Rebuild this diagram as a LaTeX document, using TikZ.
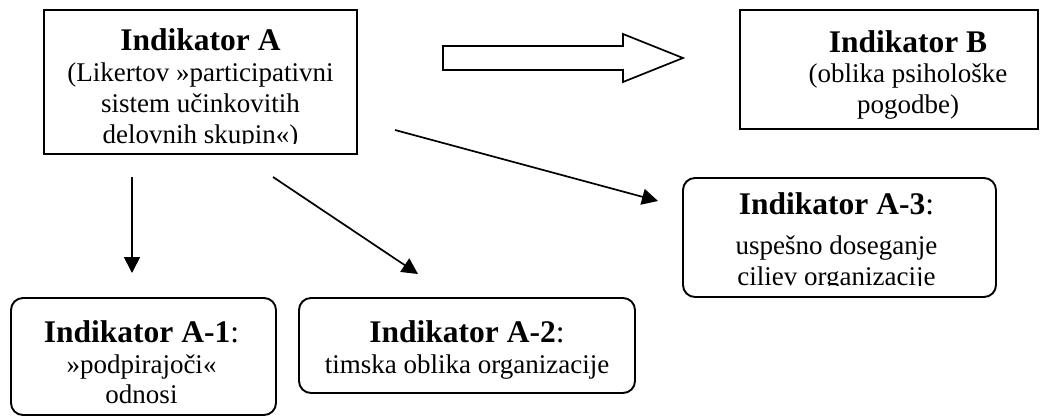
\documentclass[tikz,border=0pt]{standalone}
\usepackage{fontspec}
\setmainfont{Liberation Serif}
\usetikzlibrary{arrows.meta}
\begin{document}
\begin{tikzpicture}[x=1pt,y=-1pt,
  box/.style={draw, line width=1.9pt, inner sep=0pt, minimum width=#1},
  rbox/.style={box=#1, rounded corners=12pt},
  ttl/.style={anchor=base, inner sep=0pt, font=\fontsize{31.5}{36}\selectfont},
  txt/.style={anchor=base, inner sep=0pt, font=\fontsize{27}{31}\selectfont},
  link/.style={line width=1.7pt, -{Triangle[length=16pt,width=16pt]}},
  hollow/.style={draw, line width=1.7pt, fill=white, line join=miter}]
\useasboundingbox (0,0) rectangle (1041,416);

% frames
\node[box=313pt, minimum height=144pt] (A) at (200.5,82) {};
\node[box=298pt, minimum height=119pt] (B) at (889,69.5) {};
\node[rbox=313pt, minimum height=119pt] (A3) at (839.5,237.5) {};
\node[rbox=265pt, minimum height=117pt] (A1) at (143.5,356.5) {};
\node[rbox=336pt, minimum height=95pt] (A2) at (467,345.5) {};

% Indikator A (last line cut off by the frame margin)
\begin{scope}
  \clip (44,10) rectangle (357,143);
  \node[ttl] (At) at (200.5,50.7) {\bfseries Indikator A};
  \node[txt] (A1l) at (200.5,81) {(Likertov »participativni};
  \node[txt] (A2l) at (200.5,112) {sistem učinkovitih};
  \node[txt] (A3l) at (200.5,143.5) {delovnih skupin«)};
\end{scope}

% Indikator B
\node[ttl] (Bt) at (908,52) {\bfseries Indikator B};
\node[txt] (B1l) at (908,82.5) {(oblika psihološke};
\node[txt] (B2l) at (908,113) {pogodbe)};

% Indikator A-3 (last line cut off by the frame margin)
\begin{scope}
  \clip (683,178) rectangle (996,285);
  \node[ttl] (A3t) at (836.5,214.5) {{\bfseries Indikator A-3}:};
  \node[txt] (A3a) at (836.5,254) {uspešno doseganje};
  \node[txt] (A3b) at (836.5,285.5) {ciliev organizacije};
\end{scope}

% Indikator A-1
\node[ttl] (A1t) at (141.5,342) {{\bfseries Indikator A-1}:};
\node[txt] (A1a) at (141.5,373) {»podpirajoči«};
\node[txt] (A1b) at (141.5,403) {odnosi};

% Indikator A-2
\node[ttl] (A2t) at (467,342) {{\bfseries Indikator A-2}:};
\node[txt] (A2a) at (467,373) {timska oblika organizacije};

% hollow block arrow A -> B
\draw[hollow] (443,46) -- (623,46) -- (623,34) -- (683,58) -- (623,82)
  -- (623,70) -- (443,70) -- cycle;

% arrow ends
\coordinate (s1) at (132,177);
\coordinate (e1) at (132,273);
\coordinate (s2) at (273,177);
\coordinate (e2) at (418,274);
\coordinate (s3) at (395,130);
\coordinate (e3) at (658,201);

\draw[link] (s1) -- (e1);
\draw[link] (s2) -- (e2);
\draw[link] (s3) -- (e3);
\end{tikzpicture}
\end{document}
